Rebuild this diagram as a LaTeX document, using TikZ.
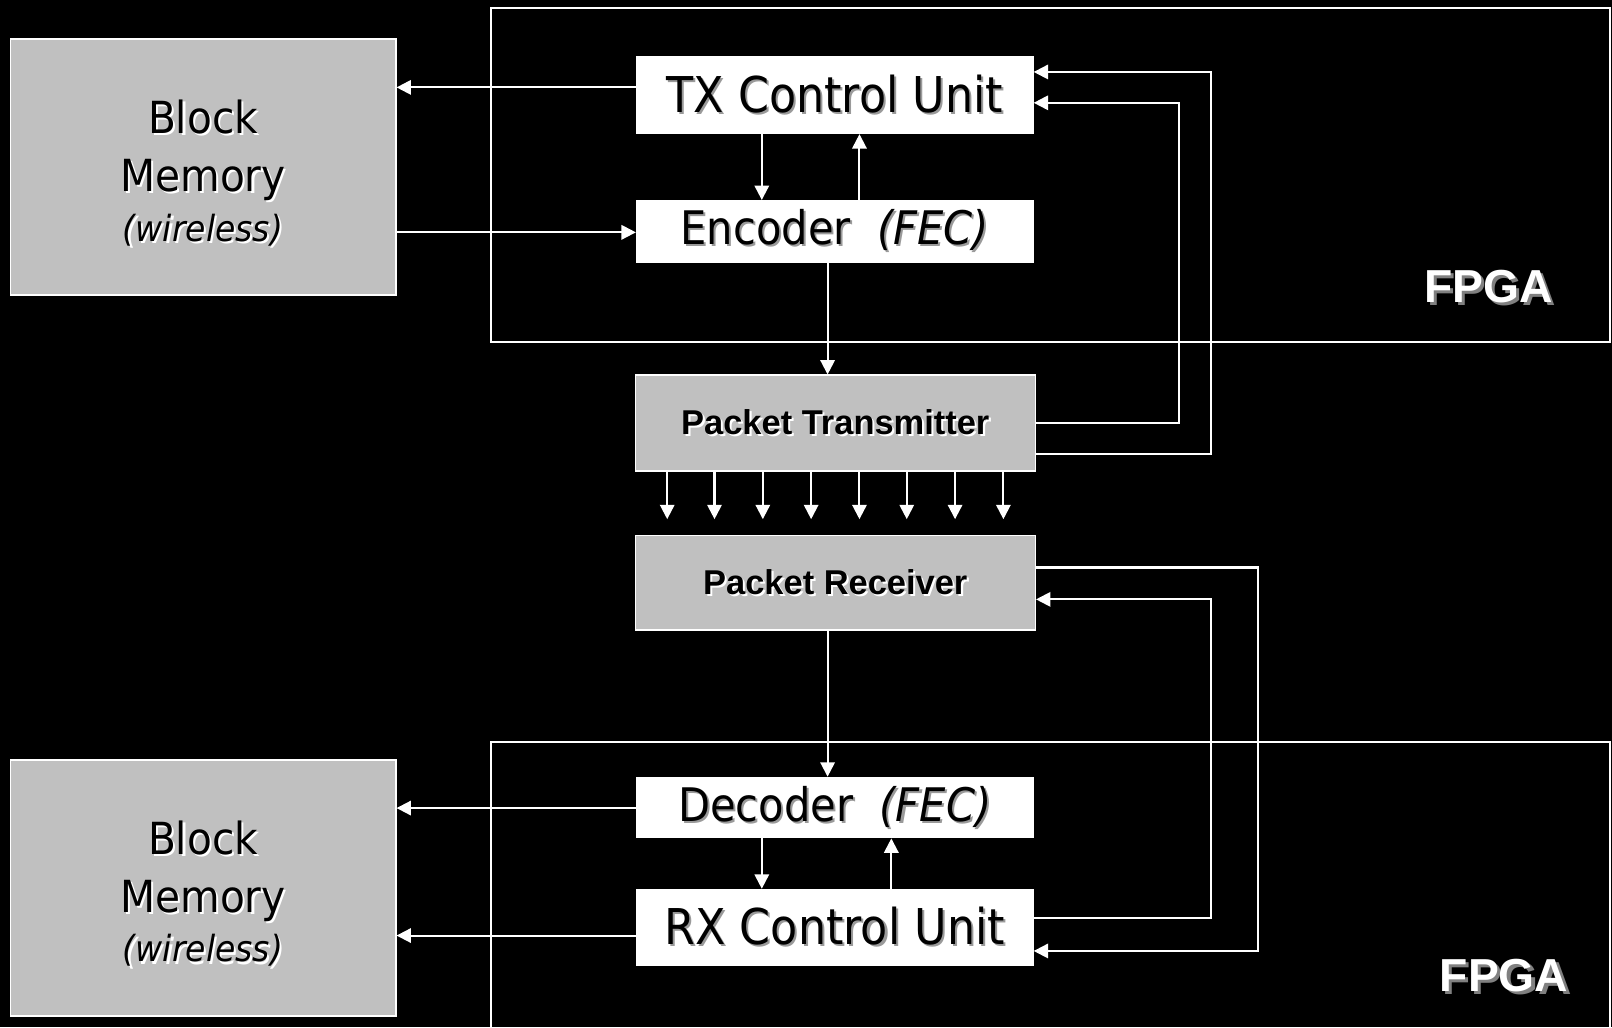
\documentclass[tikz,border=0pt]{standalone}
\usepackage{fontspec}
\setmainfont{DejaVu Sans}
\newfontfamily\tahomaf[FakeStretch=0.92]{DejaVu Sans}
\newfontfamily\narrowf[FakeStretch=0.9]{DejaVu Sans}
\newfontfamily\arialf{Liberation Sans}
\usetikzlibrary{arrows.meta}
\definecolor{boxgray}{HTML}{C0C0C0}
\definecolor{shgray}{HTML}{9A9A9A}
\newcommand\shtext[3][2pt]{\makebox[0pt][l]{\hspace{#1}\raisebox{-#1}{\color{#2}#3}}#3}
\newcommand\memlabel{\raisebox{-14.5pt}[0pt][0pt]{\begin{tabular}{@{}c@{}}\shtext{white}{Block}\\\shtext{white}{Memory}\\[-9pt]{\fontsize{35}{44}\selectfont\itshape\shtext{white}{(wireless)}}\end{tabular}}}
\begin{document}
\begin{tikzpicture}[x=1pt,y=-1pt,
  wire/.style={draw=white, line width=2pt},
  arr/.style={wire, -{Triangle[length=14pt,width=14pt]}},
  whitebox/.style={draw=white, fill=white, line width=1pt, inner sep=0pt, text=black},
  graybox/.style={draw=white, fill=boxgray, line width=1.5pt, inner sep=0pt, text=black},
  frame/.style={draw=white, line width=2pt},
  bigtxt/.style={font=\fontsize{48}{50}\selectfont\narrowf},
  medtxt/.style={font=\fontsize{45}{50}\selectfont\narrowf},
  pkttxt/.style={font=\fontsize{33.5}{36}\selectfont\arialf\bfseries},
  memtxt/.style={font=\fontsize{43}{57}\selectfont\tahomaf},
  fpgatxt/.style={font=\fontsize{45}{50}\selectfont\arialf\bfseries, text=white, inner sep=0pt}]
\fill[black] (0,0) rectangle (1568,999);
\useasboundingbox (0,0) rectangle (1568,999);
\begin{scope}
\clip (0,0) rectangle (1568,999);
\draw[frame] (478,8) rectangle (1566,333);
\draw[frame] (478,1010) -- (478,722) -- (1566,722) -- (1566,1010);
\end{scope}

% block memories
\node[graybox, minimum width=375pt, minimum height=249pt, memtxt] (bm1) at (197.5,162.5) {\memlabel};
\node[graybox, minimum width=375pt, minimum height=249pt, memtxt] (bm2) at (197.5,863.5) {\memlabel};

% TX side
\node[whitebox, minimum width=386pt, minimum height=75pt, bigtxt] (tx) at (812,92.5)
  {\shtext{shgray}{TX Control Unit}};
\node[whitebox, minimum width=386pt, minimum height=60pt, medtxt] (enc) at (812,225)
  {\shtext{shgray}{Encoder}\ \ \shtext{shgray}{\itshape(FEC)}};
\node[graybox, minimum width=389pt, minimum height=93pt, pkttxt] (pt) at (812.5,411.5)
  {\shtext{white}{Packet Transmitter}};
\node[graybox, minimum width=389pt, minimum height=92pt, pkttxt] (pr) at (812.5,567)
  {\shtext{white}{Packet Receiver}};
\node[whitebox, minimum width=386pt, minimum height=59pt, medtxt] (dec) at (812,785.5)
  {\shtext{shgray}{Decoder}\ \ \shtext{shgray}{\itshape(FEC)}};
\node[whitebox, minimum width=386pt, minimum height=74pt, bigtxt] (rx) at (812,902)
  {\shtext{shgray}{RX Control Unit}};

\node[fpgatxt] (f1) at (1448,280) {\shtext[3pt]{gray}{FPGA}};
\node[fpgatxt] (f2) at (1463,950) {\shtext[3pt]{gray}{FPGA}};

% connectors
\draw[arr] (tx.west |- 0,85) -- (bm1.east |- 0,85);
\draw[arr] (bm1.east |- 0,226) -- (enc.west |- 0,226);
\draw[arr] (tx.south -| 741,0) -- (enc.north -| 741,0);
\draw[arr] (enc.north -| 836,0) -- (tx.south -| 836,0);
\draw[arr] (enc.south -| 805,0) -- (pt.north -| 805,0);
\draw[arr] (pt.east |- 0,411) -- (1147,411) -- (1147,100) -- (tx.east |- 0,100);
\draw[arr] (pt.east |- 0,442) -- (1178,442) -- (1178,70) -- (tx.east |- 0,70);
\foreach \x in {649,695,742,789,836,882,929,976}{
  \coordinate (e\x) at (\x,505);
  \draw[arr] (pt.south -| \x,0) -- (e\x);
}
\draw[arr] (pr.south -| 805,0) -- (dec.north -| 805,0);
\draw[arr] (pr.east |- 0,552) -- (1224,552) -- (1224,925) -- (rx.east |- 0,925);
\draw[arr] (rx.east |- 0,893) -- (1178,893) -- (1178,583) -- (pr.east |- 0,583);
\draw[arr] (dec.west |- 0,786) -- (bm2.east |- 0,786);
\draw[arr] (rx.west |- 0,910) -- (bm2.east |- 0,910);
\draw[arr] (dec.south -| 741,0) -- (rx.north -| 741,0);
\draw[arr] (rx.north -| 867,0) -- (dec.south -| 867,0);
\end{tikzpicture}
\end{document}
